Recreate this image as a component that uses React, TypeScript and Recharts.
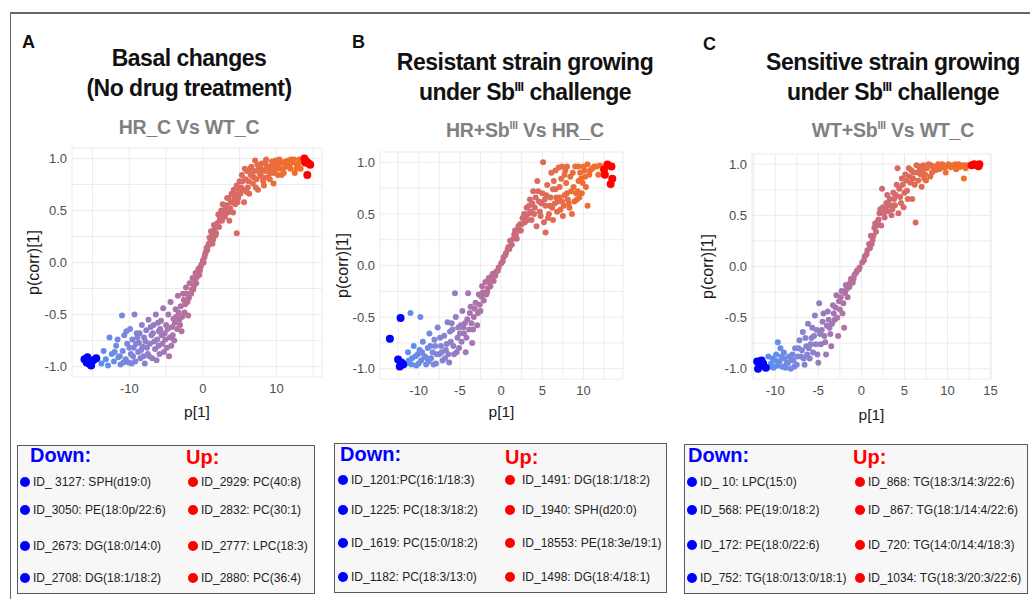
import React from 'react';
import { ScatterChart, Scatter, XAxis, YAxis, CartesianGrid, Label } from 'recharts';

type P = [number, number];

// ---------- Panel A data (p[1], p(corr)[1]) ----------
const pointsA: P[] = [
  [-13.8,-0.97],[-13.5,-0.85],[-13.2,-0.93],[-12.9,-0.99],[-12.7,-0.72],[-12.4,-0.88],[-12.1,-0.95],[-11.8,-0.8],[-11.5,-0.91],[-11.2,-0.98],
  [-11.0,-0.51],[-10.9,-0.85],[-10.7,-0.7],[-10.5,-0.93],[-10.3,-0.78],[-10.1,-0.96],[-9.9,-0.64],[-9.8,-0.88],[-9.6,-0.74],[-9.4,-0.82],
  [-9.3,-0.5],[-9.2,-0.95],[-9.0,-0.68],[-8.8,-0.86],[-8.7,-0.77],[-8.5,-0.92],[-8.3,-0.6],[-8.2,-0.81],[-8.0,-0.72],[-7.9,-0.97],
  [-7.7,-0.65],[-7.5,-0.88],[-7.4,-0.55],[-7.2,-0.78],[-7.0,-0.7],[-6.9,-0.92],[-6.7,-0.6],[-6.5,-0.83],[-6.4,-0.5],[-6.2,-0.74],
  [-6.0,-0.66],[-5.9,-0.88],[-5.7,-0.56],[-5.5,-0.78],[-5.4,-0.44],[-5.2,-0.68],[-5.0,-0.6],[-4.9,-0.82],[-4.7,-0.5],[-4.5,-0.72],
  [-4.4,-0.38],[-4.2,-0.62],[-4.0,-0.54],[-3.9,-0.75],[-3.7,-0.45],[-3.5,-0.64],[-3.4,-0.32],[-3.2,-0.55],[-3.0,-0.42],[-2.9,-0.66],
  [-2.7,-0.3],[-2.5,-0.48],[-2.3,-0.24],[-2.1,-0.38],[-2.0,-0.51],[-1.8,-0.2],[-1.6,-0.3],[-1.4,-0.15],[-1.2,-0.22],[-1.0,-0.1],
  [-0.8,-0.14],[-0.6,-0.06],[-0.4,-0.08],[-0.2,-0.02],[0.0,0.02],[0.2,0.05],[0.4,0.1],[0.6,0.12],[0.8,0.18],[1.0,0.2],
  [1.2,0.26],[1.4,0.22],[1.6,0.32],[1.8,0.28],[2.0,0.38],[2.2,0.34],[2.4,0.45],[2.6,0.4],[2.8,0.5],[3.0,0.44],
  [3.2,0.55],[3.4,0.48],[3.5,0.62],[3.7,0.52],[3.9,0.66],[4.0,0.58],[4.2,0.7],[4.4,0.56],[4.6,0.28],[4.6,0.74],
  [4.8,0.62],[5.0,0.78],[5.1,0.66],[5.3,0.84],[5.5,0.7],[5.6,0.58],[5.8,0.8],[6.0,0.88],[6.1,0.72],[6.3,0.66],
  [6.5,0.84],[6.6,0.92],[6.8,0.76],[7.0,0.88],[7.1,0.98],[7.3,0.8],[7.5,0.7],[7.6,0.9],[7.8,0.84],[8.0,0.95],
  [8.2,0.78],[8.4,0.88],[8.6,0.99],[8.8,0.82],[9.0,0.92],[9.2,0.86],[9.4,0.97],[9.6,0.76],[9.8,0.9],[10.0,0.95],
  [10.2,0.84],[10.4,0.99],[10.6,0.9],[10.8,0.96],[11.0,0.86],[11.3,0.93],[11.6,0.98],[11.9,0.9],[12.2,0.96],[12.5,0.86],
  [12.8,0.94],[13.1,0.99],[13.3,0.9],
  [-9.5,-0.9],[-8.9,-0.72],[-8.4,-0.84],[-7.8,-0.76],[-7.3,-0.9],[-6.8,-0.68],[-6.3,-0.94],[-6.1,-0.58],[-5.6,-0.7],[-5.3,-0.86],
  [-4.8,-0.64],[-4.6,-0.9],[-4.1,-0.7],[-3.8,-0.58],[-3.3,-0.48],[-2.8,-0.52],[-2.6,-0.36],[-2.2,-0.3],[-1.5,-0.26],[-1.1,-0.17],
  [1.1,0.3],[1.5,0.36],[2.1,0.46],[2.7,0.56],[3.3,0.62],[3.6,0.4],[4.1,0.48],[4.5,0.65],[5.2,0.72],[5.7,0.9],
  [6.2,0.78],[6.9,0.82],[7.4,0.94],[7.9,0.9],[8.3,0.74],[8.7,0.92],[9.1,0.8],[9.5,0.94],[10.1,0.9],[10.7,0.84],
  [11.2,0.97],[11.8,0.94],[12.4,0.99],
  [-12.0,-0.86],[-11.6,-0.74],[-11.3,-0.9],[-10.8,-0.96],[-10.4,-0.66],[-10.0,-0.82],[-9.7,-0.97],[-9.1,-0.78],[-8.6,-0.68],[-8.1,-0.9],
  [-7.6,-0.82],[-7.1,-0.62],[-6.6,-0.76],[-6.0,-0.8],[-5.8,-0.64],[-5.1,-0.74],[-4.3,-0.8],[-3.6,-0.52],[-3.1,-0.6],[-2.4,-0.4],
  [-1.9,-0.34],[-1.3,-0.26],[-0.9,-0.2],[-0.5,-0.12],[-0.3,-0.04],[0.1,0.0],[0.3,0.08],[0.5,0.14],[0.7,0.16],[0.9,0.24],
  [1.3,0.18],[1.7,0.26],[1.9,0.36],[2.3,0.42],[2.5,0.5],[2.9,0.46],[3.1,0.52],[3.8,0.58],[4.3,0.62],[4.7,0.58],
  [4.9,0.7],[5.4,0.78],[5.9,0.68],[6.4,0.9],[6.7,0.86],[7.2,0.72],[7.7,0.86],[8.1,0.82],[8.5,0.96],[8.9,0.88],
  [9.3,0.9],[9.7,0.86],[9.9,0.98],[10.3,0.94],[10.9,0.9],[11.5,0.92],[12.0,0.99],[12.7,0.9],[13.0,0.95],
];
const blueA: P[] = [[-16.1,-0.93],[-15.7,-0.91],[-15.5,-0.97],[-15.2,-0.99],[-14.9,-0.94],[-14.5,-0.92],[-15.8,-0.96]];
const redA: P[] = [[13.8,1.0],[14.1,0.97],[14.4,0.95],[14.6,0.94],[13.9,0.96],[14.2,0.84]];

// ---------- Panel B data ----------
const pointsB: P[] = [
  [-11.5,-0.95],[-11.3,-0.84],[-11.0,-0.46],[-10.8,-0.9],[-10.6,-0.78],[-10.3,-0.97],[-10.1,-0.86],[-9.8,-0.5],[-9.7,-0.92],[-9.5,-0.74],
  [-9.3,-0.88],[-9.1,-0.96],[-8.9,-0.8],[-8.7,-0.66],[-8.5,-0.9],[-8.3,-0.84],[-8.1,-0.72],[-7.9,-0.95],[-7.7,-0.6],[-7.5,-0.86],
  [-7.3,-0.78],[-7.1,-0.92],[-6.9,-0.68],[-6.7,-0.82],[-6.5,-0.55],[-6.3,-0.94],[-6.1,-0.74],[-5.9,-0.62],[-5.7,-0.86],[-5.6,-0.27],
  [-5.5,-0.5],[-5.3,-0.7],[-5.1,-0.8],[-4.9,-0.58],[-4.7,-0.44],[-4.5,-0.66],[-4.3,-0.84],[-4.1,-0.52],[-4.0,-0.27],[-3.9,-0.62],
  [-3.7,-0.4],[-3.5,-0.75],[-3.3,-0.5],[-3.1,-0.36],[-2.9,-0.58],[-2.7,-0.28],[-2.5,-0.44],[-2.3,-0.2],[-2.1,-0.34],[-1.9,-0.16],
  [-1.7,-0.26],[-1.5,-0.12],[-1.3,-0.2],[-1.1,-0.1],[-0.9,-0.15],[-0.6,-0.06],[-0.3,-0.02],
  [0.0,0.02],[0.3,0.08],[0.6,0.12],[0.9,0.18],[1.1,0.24],[1.3,0.2],[1.6,0.3],[1.9,0.26],[2.1,0.38],[2.4,0.34],
  [2.6,0.46],[2.9,0.42],[3.1,0.56],[3.3,0.5],[3.5,0.64],[3.7,0.44],[3.9,0.72],[4.1,0.56],[4.3,0.38],[4.4,0.82],
  [4.6,0.62],[4.8,0.48],[5.0,0.7],[5.1,1.0],[5.2,0.42],[5.4,0.32],[5.4,0.58],[5.6,0.78],[5.8,0.5],[6.0,0.66],
  [6.1,0.9],[6.3,0.44],[6.5,0.6],[6.6,0.74],[6.8,0.52],[7.0,0.95],[7.1,0.66],[7.3,0.84],[7.5,0.48],[7.6,0.58],
  [7.8,0.92],[8.0,0.7],[8.2,0.6],[8.4,0.86],[8.6,0.5],[8.8,0.76],[9.0,0.96],[9.2,0.64],[9.4,0.82],[9.6,0.9],
  [9.8,0.7],[10.0,0.96],[10.2,0.86],[10.5,0.58],[10.5,0.98],[10.8,0.92],[11.3,0.96],[11.8,0.88],[12.0,0.97],
  [-10.9,-0.96],[-9.9,-0.82],[-8.8,-0.93],[-8.0,-0.78],[-7.4,-0.7],[-6.8,-0.9],[-6.2,-0.64],[-5.8,-0.78],[-5.2,-0.6],[-4.8,-0.74],
  [-4.4,-0.56],[-3.8,-0.46],[-3.4,-0.62],[-2.8,-0.46],[-2.4,-0.3],[-1.6,-0.22],[1.0,0.16],[1.7,0.34],[2.3,0.4],[3.0,0.48],
  [3.6,0.52],[4.2,0.66],[4.7,0.52],[5.3,0.64],[5.7,0.46],[6.2,0.56],[6.9,0.62],[7.2,0.54],[7.7,0.68],[8.3,0.56],
  [8.9,0.62],[9.3,0.72],[9.7,0.84],[10.3,0.76],[6.4,0.82],[7.9,0.8],
  [-11.2,-0.92],[-10.4,-0.88],[-10.0,-0.95],[-9.6,-0.84],[-9.0,-0.9],[-8.6,-0.78],[-8.2,-0.96],[-7.8,-0.86],[-7.2,-0.84],[-6.6,-0.76],
  [-6.4,-0.86],[-6.0,-0.56],[-5.4,-0.84],[-5.0,-0.66],[-4.6,-0.6],[-4.2,-0.7],[-3.6,-0.56],[-3.2,-0.42],[-2.6,-0.38],[-2.2,-0.26],
  [-1.8,-0.28],[-1.4,-0.16],[-1.0,-0.08],[-0.7,-0.1],[-0.4,-0.05],[0.2,0.04],[0.5,0.1],[0.8,0.16],[1.2,0.2],[1.5,0.26],
  [1.8,0.3],[2.2,0.34],[2.5,0.4],[2.8,0.5],[3.2,0.44],[3.4,0.58],[3.8,0.6],[4.0,0.5],[4.5,0.72],[4.9,0.6],
  [5.5,0.68],[5.9,0.58],[6.3,0.74],[6.7,0.66],[7.1,0.76],[7.4,0.62],[7.7,0.88],[8.1,0.64],[8.5,0.72],[8.7,0.9],
  [9.1,0.7],[9.5,0.66],[9.9,0.8],[10.1,0.92],[10.7,0.88],[11.1,0.94],[11.6,0.96],[6.6,0.92],[7.4,0.96],[8.0,0.96],[9.4,0.96],
];
const blueB: P[] = [[-12.2,-0.51],[-13.5,-0.71],[-12.5,-0.91],[-12.1,-0.94],[-12.3,-0.98],[-11.9,-0.96]];
const redB: P[] = [[12.9,0.98],[13.4,0.96],[12.5,0.93],[12.6,0.88],[13.5,0.84],[13.3,0.79]];

// ---------- Panel C data ----------
const pointsC: P[] = [
  [-10.8,-0.88],[-10.5,-0.95],[-10.2,-0.99],[-9.9,-0.86],[-9.7,-0.74],[-9.5,-0.93],[-9.2,-0.98],[-9.0,-0.84],[-8.7,-0.95],[-8.4,-0.88],
  [-8.2,-1.0],[-7.9,-0.92],[-7.7,-0.8],[-7.5,-0.96],[-7.2,-0.72],[-7.0,-0.88],[-6.8,-0.64],[-6.6,-0.96],[-6.4,-0.78],[-6.2,-0.56],
  [-6.0,-0.9],[-5.8,-0.7],[-5.6,-0.84],[-5.4,-0.48],[-5.2,-0.62],[-5.0,-0.94],[-4.9,-0.36],[-4.7,-0.76],[-4.5,-0.54],[-4.3,-0.68],
  [-4.1,-0.86],[-3.9,-0.44],[-3.7,-0.6],[-3.5,-0.78],[-3.3,-0.38],[-3.1,-0.52],[-2.9,-0.28],[-2.7,-0.68],[-2.5,-0.42],[-2.3,-0.24],
  [-2.1,-0.36],[-2.0,-0.6],[-1.8,-0.18],[-1.6,-0.3],[-1.4,-0.2],[-1.2,-0.12],[-1.0,-0.16],[-0.8,-0.08],[-0.5,-0.04],[-0.2,-0.01],
  [0.1,0.04],[0.4,0.1],[0.7,0.16],[0.9,0.22],[1.1,0.3],[1.3,0.26],[1.5,0.38],[1.7,0.34],[1.9,0.44],[2.1,0.52],
  [2.3,0.4],[2.4,0.76],[2.5,0.58],[2.7,0.48],[2.9,0.62],[3.1,0.54],[3.3,0.66],[3.5,0.5],[3.7,0.72],[3.9,0.6],
  [4.1,0.8],[4.2,0.96],[4.3,0.52],[4.5,0.68],[4.7,0.86],[4.9,0.58],[5.1,0.9],[5.3,0.74],[5.5,0.96],[5.7,0.82],
  [5.9,0.66],[6.1,0.92],[6.3,0.43],[6.4,0.99],[6.6,0.84],[6.8,0.95],[7.0,0.78],[7.2,0.99],[7.4,0.9],[7.6,0.96],
  [7.8,1.0],[8.0,0.88],[8.3,0.98],[8.6,0.94],[8.9,1.0],[9.2,0.96],[9.5,0.99],[9.8,0.92],[10.1,1.0],[10.4,0.97],
  [10.7,0.99],[11.0,0.95],[11.3,1.0],[11.6,0.98],[11.9,0.86],[12.2,0.99],
  [-10.0,-0.92],[-9.4,-0.8],[-8.9,-0.9],[-8.0,-0.86],[-7.4,-0.88],[-6.9,-0.82],[-6.5,-0.7],[-6.1,-0.8],[-5.7,-0.6],[-5.3,-0.76],
  [-4.8,-0.66],[-4.4,-0.46],[-4.0,-0.58],[-3.6,-0.66],[-3.2,-0.46],[-2.6,-0.34],[-1.9,-0.26],[1.2,0.22],[1.8,0.4],[2.6,0.52],
  [3.2,0.6],[3.8,0.66],[4.4,0.76],[5.0,0.72],[5.6,0.88],[6.2,0.8],[6.9,0.9],[7.5,0.84],[8.2,0.92],[9.0,0.95],[9.7,0.97],
  [-10.6,-0.98],[-10.3,-0.9],[-9.8,-0.97],[-9.3,-0.88],[-8.8,-0.99],[-8.5,-0.94],[-8.1,-0.9],[-7.8,-0.98],[-7.3,-0.8],[-6.7,-0.9],
  [-6.3,-0.86],[-5.9,-0.76],[-5.5,-0.68],[-5.1,-0.86],[-4.6,-0.62],[-4.2,-0.74],[-3.8,-0.52],[-3.4,-0.56],[-3.0,-0.4],[-2.8,-0.5],
  [-2.4,-0.3],[-2.2,-0.46],[-1.7,-0.22],[-1.3,-0.16],[-0.9,-0.12],[-0.6,-0.06],[-0.3,-0.03],[0.3,0.06],[0.6,0.12],[1.0,0.18],
  [1.4,0.3],[1.6,0.42],[2.0,0.46],[2.2,0.56],[2.8,0.56],[3.0,0.7],[3.4,0.6],[3.6,0.56],[4.0,0.7],[4.6,0.62],
  [4.8,0.8],[5.2,0.84],[5.4,0.66],[5.8,0.94],[6.0,0.86],[6.5,0.92],[6.7,0.98],[7.1,0.94],[7.3,0.86],[7.7,0.98],
  [8.1,0.99],[8.4,0.95],[8.8,0.97],[9.4,1.0],[9.9,0.98],[10.3,0.99],[10.9,1.0],[11.4,0.97],[11.8,0.99],[12.1,0.96],
];
const blueC: P[] = [[-12.1,-0.93],[-11.8,-0.97],[-12.0,-1.0],[-11.4,-0.95],[-11.1,-0.99],[-11.6,-0.92]];
const redC: P[] = [[12.8,0.99],[13.1,1.0],[13.4,0.99],[13.7,1.0],[13.6,0.98]];

// ---------- Ticks ----------
const yTicks = [-1, -0.75, -0.5, -0.25, 0, 0.25, 0.5, 0.75, 1];
const xTicksA = [-15, -10, -5, 0, 5, 10, 15];
const xTicksB = [-12.5, -10, -7.5, -5, -2.5, 0, 2.5, 5, 7.5, 10, 12.5];
const xTicksC = [-12.5, -10, -7.5, -5, -2.5, 0, 2.5, 5, 7.5, 10, 12.5, 15];

// ---------- Legend texts ----------
const downA = ['ID_ 3127: SPH(d19:0)', 'ID_3050: PE(18:0p/22:6)', 'ID_2673: DG(18:0/14:0)', 'ID_2708: DG(18:1/18:2)'];
const upA = ['ID_2929: PC(40:8)', 'ID_2832: PC(30:1)', 'ID_2777: LPC(18:3)', 'ID_2880: PC(36:4)'];
const downB = ['ID_1201:PC(16:1/18:3)', 'ID_1225: PC(18:3/18:2)', 'ID_1619: PC(15:0/18:2)', 'ID_1182: PC(18:3/13:0)'];
const upB = ['ID_1491: DG(18:1/18:2)', 'ID_1940: SPH(d20:0)', 'ID_18553: PE(18:3e/19:1)', 'ID_1498: DG(18:4/18:1)'];
const downC = ['ID_ 10: LPC(15:0)', 'ID_568: PE(19:0/18:2)', 'ID_172: PE(18:0/22:6)', 'ID_752: TG(18:0/13:0/18:1)'];
const upC = ['ID_868: TG(18:3/14:3/22:6)', 'ID _867: TG(18:1/14:4/22:6)', 'ID_720: TG(14:0/14:4/18:3)', 'ID_1034: TG(18:3/20:3/22:6)'];

const FONT = '"Liberation Sans", Arial, Helvetica, sans-serif';

const STOPS: [number, [number, number, number]][] = [
  [0, [90, 143, 242]],
  [0.15, [127, 134, 220]],
  [0.32, [165, 118, 180]],
  [0.5, [194, 109, 137]],
  [0.68, [218, 106, 98]],
  [0.86, [236, 108, 58]],
  [1, [242, 111, 37]],
];

function gradient(t: number): string {
  const tt = Math.max(0, Math.min(1, t));
  for (let i = 1; i < STOPS.length; i++) {
    if (tt <= STOPS[i][0]) {
      const [t0, c0] = STOPS[i - 1];
      const [t1, c1] = STOPS[i];
      const f = (tt - t0) / (t1 - t0);
      const c = c0.map((v, k) => Math.round(v + (c1[k] - v) * f));
      return `rgb(${c[0]},${c[1]},${c[2]})`;
    }
  }
  return 'rgb(242,111,37)';
}

const toData = (pts: P[]) => pts.map(([x, y]) => ({ x, y }));

type PanelProps = {
  plot: [number, number, number, number];
  xDomain: [number, number];
  xTicks: number[];
  xStep: number;
  points: P[];
  blue: P[];
  red: P[];
  yTitleOffset: number;
  xTitleOffset: number;
};

function Panel({ plot, xDomain, xTicks, xStep, points, blue, red, yTitleOffset, xTitleOffset }: PanelProps) {
  const [pl, pt, pr, pb] = plot;
  const ML = 5, MT = 10, MR = 10, MB = 5, YW = 50, XH = 45;
  const left = pl - ML - YW;
  const top = pt - MT;
  const width = pr - pl + ML + YW + MR;
  const height = pb - pt + MT + MB + XH;
  const xs = points.map((p) => p[0]);
  const xmin = Math.min(...xs);
  const xmax = Math.max(...xs);
  const tickStyle = { fill: '#4d4d4d', fontSize: 13, fontFamily: FONT };
  const normalShape = (props: any) => (
    <circle cx={props.cx} cy={props.cy} r={3} fill={gradient((props.payload.x - xmin) / (xmax - xmin))} />
  );
  const blueShape = (props: any) => <circle cx={props.cx} cy={props.cy} r={4} fill="#0000ff" />;
  const redShape = (props: any) => <circle cx={props.cx} cy={props.cy} r={4} fill="#ff0000" />;
  return (
    <div style={{ position: 'absolute', left, top, width, height }}>
      <ScatterChart width={width} height={height} margin={{ top: MT, right: MR, bottom: MB, left: ML }}>
        <CartesianGrid stroke="#ebebeb" strokeWidth={1} />
        <XAxis
          type="number"
          dataKey="x"
          domain={xDomain}
          ticks={xTicks}
          interval={0}
          allowDataOverflow
          axisLine={false}
          tickLine={false}
          tickSize={4}
          tickMargin={3}
          height={XH}
          tick={tickStyle}
          tickFormatter={(v: number) => (Math.abs(v / xStep - Math.round(v / xStep)) < 1e-9 ? String(v) : '')}
        >
          <Label value="p[1]" position="insideBottom" offset={xTitleOffset} style={{ fill: '#1a1a1a', fontSize: 15.5, fontFamily: FONT }} />
        </XAxis>
        <YAxis
          type="number"
          dataKey="y"
          domain={[-1.1, 1.1]}
          ticks={yTicks}
          interval={0}
          allowDataOverflow
          axisLine={false}
          tickLine={false}
          tickSize={2}
          tickMargin={3}
          width={YW}
          tick={tickStyle}
          tickFormatter={(v: number) => (Math.abs(v * 2 - Math.round(v * 2)) < 1e-9 ? v.toFixed(1) : '')}
        >
          <Label
            value="p(corr)[1]"
            angle={-90}
            position="insideLeft"
            offset={yTitleOffset}
            style={{ textAnchor: 'middle', fill: '#1a1a1a', fontSize: 16, fontFamily: FONT }}
          />
        </YAxis>
        <Scatter data={toData(points)} isAnimationActive={false} shape={normalShape} />
        <Scatter data={toData(blue)} isAnimationActive={false} shape={blueShape} />
        <Scatter data={toData(red)} isAnimationActive={false} shape={redShape} />
      </ScatterChart>
    </div>
  );
}

const Sup = ({ children }: { children: React.ReactNode }) => (
  <span style={{ fontSize: '0.55em', verticalAlign: '0.75em', lineHeight: 0 }}>{children}</span>
);

function Titles({
  letter, lx, ly, cx, y1, y2, ys, line1, line2, sub,
}: {
  letter: string; lx: number; ly: number; cx: number; y1: number; y2: number; ys: number;
  line1: React.ReactNode; line2: React.ReactNode; sub: React.ReactNode;
}) {
  const tStyle: React.CSSProperties = {
    position: 'absolute', left: cx - 180, width: 360, textAlign: 'center', fontFamily: FONT,
    fontWeight: 700, fontSize: 23, letterSpacing: -0.5, lineHeight: '30px', height: 30, color: '#111', whiteSpace: 'nowrap',
  };
  return (
    <>
      <div style={{ position: 'absolute', left: lx, top: ly - 10, fontFamily: FONT, fontWeight: 700, fontSize: 18, lineHeight: '20px', color: '#111' }}>{letter}</div>
      <div style={{ ...tStyle, top: y1 - 15 }}>{line1}</div>
      <div style={{ ...tStyle, top: y2 - 15 }}>{line2}</div>
      <div style={{ ...tStyle, top: ys - 15, fontSize: 19.5, letterSpacing: -0.2, color: '#808080' }}>{sub}</div>
    </>
  );
}

type LegendCfg = {
  box: [number, number, number, number];
  down: [number, number];
  up: [number, number];
  dDot: number; dText: number; uDot: number; uText: number;
  rows: number[];
  downItems: string[];
  upItems: string[];
};

function LegendBox({ box, down, up, dDot, dText, uDot, uText, rows, downItems, upItems }: LegendCfg) {
  const [bl, bt, bw, bh] = box;
  const hStyle: React.CSSProperties = { position: 'absolute', fontFamily: FONT, fontWeight: 700, fontSize: 20, lineHeight: '24px', height: 24, whiteSpace: 'nowrap' };
  const itemStyle: React.CSSProperties = { position: 'absolute', fontFamily: FONT, fontSize: 12, lineHeight: '16px', color: '#222', whiteSpace: 'nowrap' };
  const dot = (x: number, y: number, c: string, k: string) => (
    <div key={k} style={{ position: 'absolute', left: x - 5, top: y - 5, width: 10, height: 10, borderRadius: 5, background: c }} />
  );
  return (
    <>
      <div style={{ position: 'absolute', left: bl, top: bt, width: bw, height: bh, boxSizing: 'border-box', border: '1.5px solid #5a5a5a', background: '#f7f7f7' }} />
      <div style={{ ...hStyle, left: down[0], top: down[1] - 12, color: '#0000ff' }}>Down:</div>
      <div style={{ ...hStyle, left: up[0], top: up[1] - 12, color: '#ff0000' }}>Up:</div>
      {rows.map((ry, i) => (
        <React.Fragment key={i}>
          {dot(dDot, ry, '#0000ff', 'd' + i)}
          <div style={{ ...itemStyle, left: dText, top: ry - 8 }}>{downItems[i]}</div>
          {dot(uDot, ry, '#ff0000', 'u' + i)}
          <div style={{ ...itemStyle, left: uText, top: ry - 8 }}>{upItems[i]}</div>
        </React.Fragment>
      ))}
    </>
  );
}

export default function App() {
  return (
    <div style={{ position: 'absolute', left: 0, top: 0, width: 1030, height: 599, background: '#fff', overflow: 'hidden' }}>
      {/* outer frame */}
      <div style={{ position: 'absolute', left: 10, top: 12, width: 1030, height: 1.5, background: '#666' }} />
      <div style={{ position: 'absolute', left: 9.5, top: 12, width: 1.5, height: 600, background: '#666' }} />

      <Titles letter="A" lx={22} ly={42} cx={189} y1={58} y2={88} ys={127}
        line1="Basal changes" line2="(No drug treatment)" sub="HR_C Vs WT_C" />
      <Titles letter="B" lx={352} ly={42} cx={525} y1={62} y2={92} ys={130}
        line1="Resistant strain growing" line2={<>under Sb<Sup>III</Sup> challenge</>} sub={<>HR+Sb<Sup>III</Sup> Vs HR_C</>} />
      <Titles letter="C" lx={703} ly={44} cx={893} y1={62} y2={92} ys={130}
        line1="Sensitive strain growing" line2={<>under Sb<Sup>III</Sup> challenge</>} sub={<>WT+Sb<Sup>III</Sup> Vs WT_C</>} />

      <Panel plot={[72, 148, 322, 377]} xDomain={[-17.8, 16.2]} xTicks={xTicksA} xStep={10}
        points={pointsA} blue={blueA} red={redA} yTitleOffset={11} xTitleOffset={5} />
      <Panel plot={[380, 152, 623, 379]} xDomain={[-14.7, 14.8]} xTicks={xTicksB} xStep={5}
        points={pointsB} blue={blueB} red={redB} yTitleOffset={12} xTitleOffset={7} />
      <Panel plot={[752, 154, 991, 379]} xDomain={[-12.7, 15.05]} xTicks={xTicksC} xStep={5}
        points={pointsC} blue={blueC} red={redC} yTitleOffset={5} xTitleOffset={4} />

      <LegendBox box={[17, 445, 298, 149]} down={[30, 455]} up={[186, 457]} dDot={25} dText={33} uDot={193} uText={201}
        rows={[482, 510, 546, 578]} downItems={downA} upItems={upA} />
      <LegendBox box={[334, 443, 333, 150]} down={[340, 454]} up={[505, 457]} dDot={343} dText={351} uDot={510} uText={522}
        rows={[480, 510, 543, 577]} downItems={downB} upItems={upB} />
      <LegendBox box={[684, 444, 344, 150]} down={[688, 455]} up={[853, 457]} dDot={692} dText={700} uDot={860} uText={868}
        rows={[482, 510, 545, 578]} downItems={downC} upItems={upC} />
    </div>
  );
}
